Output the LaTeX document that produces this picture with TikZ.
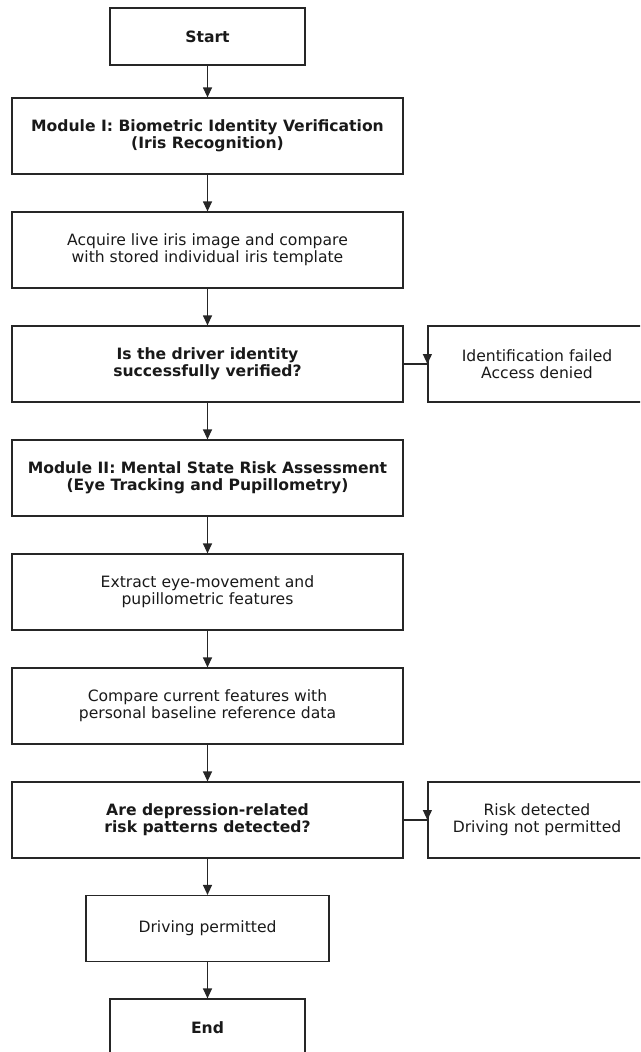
\documentclass[tikz,border=0pt]{standalone}
\usepackage{fontspec}
\setmainfont{DejaVu Sans}
\usetikzlibrary{arrows.meta,calc}
\begin{document}
\begin{tikzpicture}[x=1pt,y=-1pt,
  box/.style={draw=black!85,line width=1.2pt,align=center,inner sep=0pt,font=\fontsize{15.6}{17}\selectfont,text=black!90},
  wide/.style={box,minimum width=391pt,minimum height=76pt},
  arr/.style={draw=black!85,line width=1.2pt,-{Triangle[length=10pt,width=9pt]}},
  ln/.style={draw=black!85,line width=1.2pt}]
\path[use as bounding box] (0,0) rectangle (640,1052);
\clip (0,0) rectangle (640,1052);
\node[box,minimum width=195pt,minimum height=57pt] (start) at (207.5,36.5) {\textbf{Start}};
\node[wide] (m1) at (207.5,136) {\textbf{Module I: Biometric Identity Verification}\\\textbf{(Iris Recognition)}};
\node[wide] (acq) at (207.5,250) {Acquire live iris image and compare\\with stored individual iris template};
\node[wide] (d1) at (207.5,364) {\textbf{Is the driver identity}\\\textbf{successfully verified?}};
\node[box,minimum width=218pt,minimum height=76pt] (f1) at (537,364) {Identification failed\\Access denied};
\node[wide] (m2) at (207.5,478) {\textbf{Module II: Mental State Risk Assessment}\\\textbf{(Eye Tracking and Pupillometry)}};
\node[wide] (ext) at (207.5,592) {Extract eye-movement and\\pupillometric features};
\node[wide] (cmp) at (207.5,706) {Compare current features with\\personal baseline reference data};
\node[wide] (d2) at (207.5,820) {\textbf{Are depression-related}\\\textbf{risk patterns detected?}};
\node[box,minimum width=218pt,minimum height=76pt] (f2) at (537,820) {Risk detected\\Driving not permitted};
\node[box,minimum width=243pt,minimum height=66pt] (ok) at (207.5,928.5) {Driving permitted};
\node[box,minimum width=195pt,minimum height=57pt] (end) at (207.5,1027.5) {\textbf{End}};
\draw[arr] (start) -- (m1);
\draw[arr] (m1) -- (acq);
\draw[arr] (acq) -- (d1);
\draw[arr] (d1) -- (m2);
\draw[arr] (m2) -- (ext);
\draw[arr] (ext) -- (cmp);
\draw[arr] (cmp) -- (d2);
\draw[arr] (d2) -- (ok);
\draw[arr] (ok) -- (end);
\draw[ln] (d1.east) -- (f1.west);
\draw[arr] ($(f1.west)+(0,-11)$) -- (f1.west);
\draw[ln] (d2.east) -- (f2.west);
\draw[arr] ($(f2.west)+(0,-11)$) -- (f2.west);
\end{tikzpicture}
\end{document}
